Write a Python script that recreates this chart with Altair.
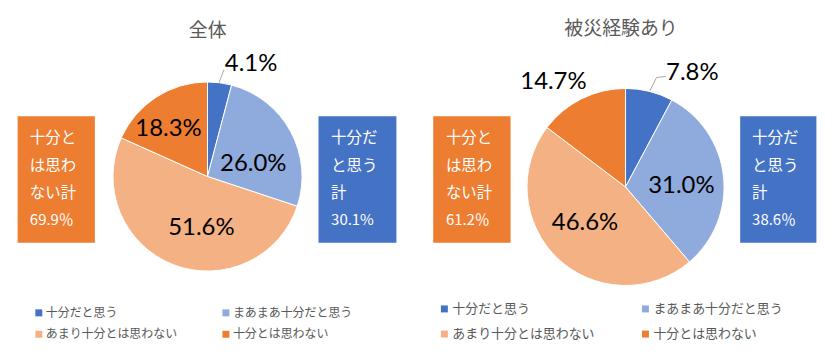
import altair as alt
import pandas as pd

# ---- data ----
categories = ["十分だと思う", "まあまあ十分だと思う", "あまり十分とは思わない", "十分とは思わない"]
colors = ["#4472C4", "#8FAADC", "#F4B183", "#ED7D31"]
titles = ["全体", "被災経験あり"]
values_all = [4.1, 26.0, 51.6, 18.3]
values_exp = [7.8, 31.0, 46.6, 14.7]
not_enough_lines = ["十分と", "は思わ", "ない計"]
enough_lines = ["十分だ", "と思う", "計"]
not_enough_totals = ["69.9％", "61.2％"]
enough_totals = ["30.1%", "38.6％"]

JP = "Noto Sans CJK JP"
GREY = "#595959"


def make_df(values):
    return pd.DataFrame({
        "category": categories,
        "value": values,
        "idx": list(range(len(categories))),
        "label": [f"{v:.1f}%" for v in values],
    })


def panel(values, title, cfg):
    df = make_df(values)
    cx, cy, r = cfg["center"]
    one = pd.DataFrame({"k": [0]})
    layers = []

    pie = alt.Chart(df).mark_arc(outerRadius=r, stroke="white", strokeWidth=1).encode(
        theta=alt.Theta("value:Q", stack=True),
        order=alt.Order("idx:Q"),
        color=alt.Color(
            "category:N",
            scale=alt.Scale(domain=categories, range=colors),
            legend=alt.Legend(
                title=None, orient="none", legendX=cfg["legend"][0], legendY=cfg["legend"][1],
                direction="horizontal",
                columns=2, columnPadding=cfg["colpad"], rowPadding=cfg["rowpad"],
                symbolType="square", symbolSize=49, symbolStrokeWidth=0,
                labelFont=JP, labelFontSize=cfg["lfs"], labelColor=GREY,
                labelOffset=cfg["loff"], padding=0, labelLimit=300,
            ),
        ),
        x=alt.value(cx), y=alt.value(cy),
    )
    layers.append(pie)

    for cat, (rad, dx, dy) in zip(categories, cfg["labels"]):
        t = alt.Chart(df).transform_calculate(
            txt=f"datum.category == '{cat}' ? datum.label : ''"
        ).mark_text(radius=rad, dx=dx, dy=dy, font="Lato", fontSize=24, color="#000000",
                    align="center", baseline="middle").encode(
            theta=alt.Theta("value:Q", stack=True),
            order=alt.Order("idx:Q"),
            detail="category:N",
            text="txt:N",
            x=alt.value(cx), y=alt.value(cy),
        )
        layers.append(t)

    for (x0, y0, x1, y1) in cfg["leader"]:
        layers.append(alt.Chart(one).mark_rule(color="#A6A6A6", strokeWidth=1).encode(
            x=alt.value(x0), y=alt.value(y0), x2=alt.value(x1), y2=alt.value(y1)))

    layers.append(alt.Chart(one).mark_text(text=title, font=JP, fontSize=19, color=GREY,
                                            align="center", baseline="middle").encode(
        x=alt.value(cfg["title"][0]), y=alt.value(cfg["title"][1])))

    for (bx0, bx1, tx, fill, lines, total) in cfg["boxes"]:
        layers.append(alt.Chart(one).mark_rect(color=fill).encode(
            x=alt.value(bx0), x2=alt.value(bx1), y=alt.value(115), y2=alt.value(242)))
        for i, line in enumerate(lines):
            layers.append(alt.Chart(one).mark_text(text=line, font=JP, fontSize=15.5, color="white",
                                                    align="left", baseline="middle").encode(
                x=alt.value(tx), y=alt.value(137 + 27.5 * i)))
        layers.append(alt.Chart(one).mark_text(text=total, font=JP, fontSize=15, color="white",
                                                align="left", baseline="middle").encode(
            x=alt.value(tx), y=alt.value(219.5)))

    return alt.layer(*layers).properties(width=420, height=356)


left_cfg = {
    "center": (207.5, 175.5, 95),
    "labels": [(115, 29, 1), (50, 2, 11), (50, 12, 5.5), (50, -12, -5.5)],
    "leader": [(219.3, 80.7, 224, 68.3)],
    "title": (207.7, 29),
    "legend": (32, 306.5),
    "colpad": 42, "rowpad": 9.5, "lfs": 12, "loff": 1,
    "boxes": [
        (16.7, 94.3, 29, "#ED7D31", not_enough_lines, not_enough_totals[0]),
        (319, 397.3, 331.7, "#4472C4", enough_lines, enough_totals[0]),
    ],
}

right_cfg = {
    "center": (205.5, 186, 99),
    "labels": [(120, 38, 1.5), (55, 1.5, 5), (55, -3, -3.5), (120, -19, 2.5)],
    "leader": [(230, 89.3, 236.7, 76), (236.7, 76, 246, 75)],
    "title": (201, 27.5),
    "legend": (17, 301.8),
    "colpad": 44, "rowpad": 11.5, "lfs": 13, "loff": 1.5,
    "boxes": [
        (12.3, 90, 25, "#ED7D31", not_enough_lines, not_enough_totals[1]),
        (320.7, 397.3, 332.7, "#4472C4", enough_lines, enough_totals[1]),
    ],
}

left = panel(values_all, titles[0], left_cfg)
right = panel(values_exp, titles[1], right_cfg)

chart = alt.hconcat(left, right, spacing=0).resolve_scale(color="independent").resolve_legend(
    color="independent").properties(padding=0, background="white").configure_view(stroke="transparent")

chart.save("out.html", embed_options={"renderer": "svg", "actions": False})
